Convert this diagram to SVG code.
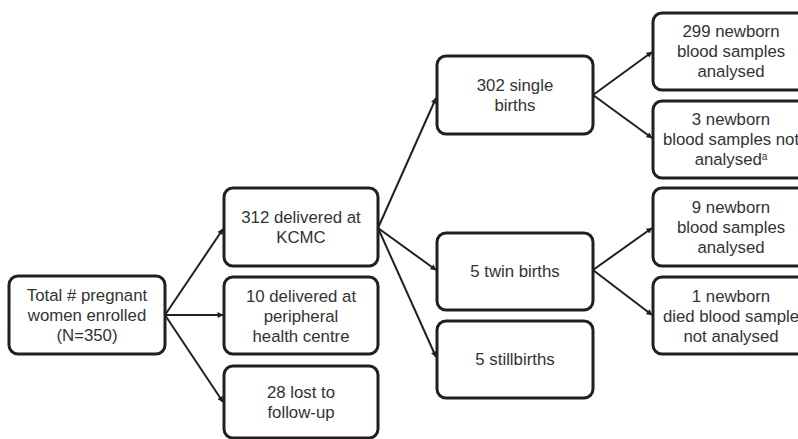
<svg xmlns="http://www.w3.org/2000/svg" width="798" height="439" viewBox="0 0 798 439">
<style>
.box{fill:#fff;stroke:#231f20;stroke-width:3}
.t{font-family:"Liberation Sans",Arial,sans-serif;font-size:16.8px;fill:#333;text-anchor:middle}
.c{stroke:#231f20;stroke-width:2;fill:none}
</style>
<defs>
<marker id="ah" viewBox="0 0 10 10" refX="9" refY="5" markerWidth="7" markerHeight="6" orient="auto" markerUnits="userSpaceOnUse">
<path d="M0,0 L10,5 L0,10 z" fill="#231f20"/>
</marker>
</defs>
<rect width="798" height="439" fill="#fff"/>
<g id="connectors">
<line class="c" x1="165" y1="315" x2="223" y2="229" marker-end="url(#ah)"/>
<line class="c" x1="165" y1="315" x2="223" y2="315" marker-end="url(#ah)"/>
<line class="c" x1="165" y1="315" x2="223" y2="402" marker-end="url(#ah)"/>
<line class="c" x1="378" y1="228" x2="436" y2="98" marker-end="url(#ah)"/>
<line class="c" x1="378" y1="228" x2="436" y2="270" marker-end="url(#ah)"/>
<line class="c" x1="378" y1="228" x2="436" y2="357" marker-end="url(#ah)"/>
<line class="c" x1="593" y1="95" x2="652" y2="52" marker-end="url(#ah)"/>
<line class="c" x1="593" y1="95" x2="652" y2="138" marker-end="url(#ah)"/>
<line class="c" x1="593" y1="270" x2="652" y2="228" marker-end="url(#ah)"/>
<line class="c" x1="593" y1="270" x2="652" y2="315" marker-end="url(#ah)"/>
</g>
<g id="n-total">
<rect class="box" x="9" y="276" width="156" height="78" rx="9"/>
<text class="t" x="87" y="301">Total # pregnant</text>
<text class="t" x="87" y="321">women enrolled</text>
<text class="t" x="87" y="341">(N=350)</text>
</g>
<g id="n-kcmc">
<rect class="box" x="224" y="188" width="154" height="78" rx="9"/>
<text class="t" x="301" y="223">312 delivered at</text>
<text class="t" x="301" y="243">KCMC</text>
</g>
<g id="n-peripheral">
<rect class="box" x="224" y="277" width="154" height="77" rx="9"/>
<text class="t" x="301" y="302">10 delivered at</text>
<text class="t" x="301" y="322">peripheral</text>
<text class="t" x="301" y="342">health centre</text>
</g>
<g id="n-lost">
<rect class="box" x="224" y="366" width="154" height="72" rx="9"/>
<text class="t" x="301" y="398">28 lost to</text>
<text class="t" x="301" y="418">follow-up</text>
</g>
<g id="n-single">
<rect class="box" x="437" y="56" width="156" height="78" rx="9"/>
<text class="t" x="515" y="91">302 single</text>
<text class="t" x="515" y="111">births</text>
</g>
<g id="n-twin">
<rect class="box" x="437" y="233" width="156" height="77" rx="9"/>
<text class="t" x="515" y="277">5 twin births</text>
</g>
<g id="n-still">
<rect class="box" x="437" y="321" width="156" height="77" rx="9"/>
<text class="t" x="515" y="365">5 stillbirths</text>
</g>
<g id="n-299">
<rect class="box" x="653" y="13" width="156" height="77" rx="9"/>
<text class="t" x="731" y="37">299 newborn</text>
<text class="t" x="731" y="57">blood samples</text>
<text class="t" x="731" y="77">analysed</text>
</g>
<g id="n-3">
<rect class="box" x="653" y="101" width="156" height="77" rx="9"/>
<text class="t" x="731" y="125">3 newborn</text>
<text class="t" x="731" y="145">blood samples not</text>
<text class="t" x="731" y="165">analysed<tspan font-size="10" dy="-5">a</tspan></text>
</g>
<g id="n-9">
<rect class="box" x="653" y="188" width="156" height="78" rx="9"/>
<text class="t" x="731" y="213">9 newborn</text>
<text class="t" x="731" y="233">blood samples</text>
<text class="t" x="731" y="253">analysed</text>
</g>
<g id="n-1">
<rect class="box" x="653" y="277" width="156" height="77" rx="9"/>
<text class="t" x="731" y="302">1 newborn</text>
<text class="t" x="731" y="322">died blood sample</text>
<text class="t" x="731" y="342">not analysed</text>
</g>
</svg>
